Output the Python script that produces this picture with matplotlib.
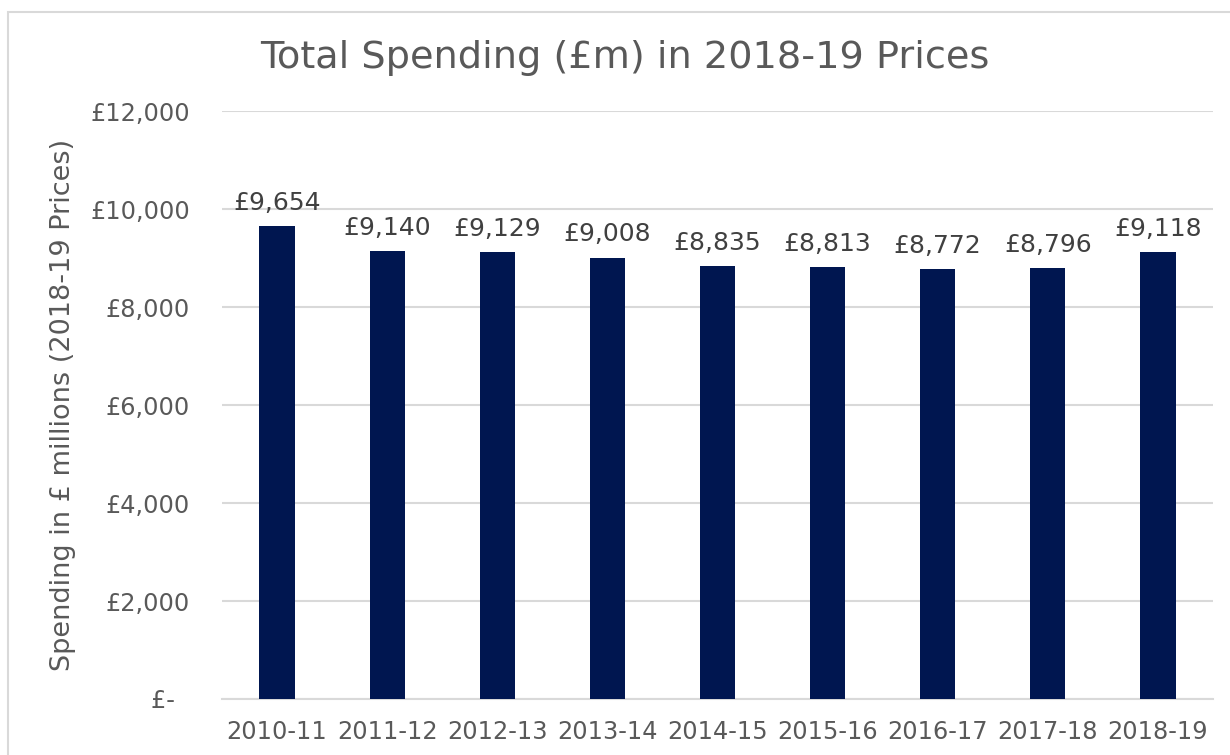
import matplotlib.pyplot as plt
from matplotlib.patches import Rectangle

years = ['2010-11', '2011-12', '2012-13', '2013-14', '2014-15',
         '2015-16', '2016-17', '2017-18', '2018-19']
spending = [9654, 9140, 9129, 9008, 8835, 8813, 8772, 8796, 9118]
y_ticks = [0, 2000, 4000, 6000, 8000, 10000, 12000]

text_grey = '#595959'
grid_grey = '#d9d9d9'
bar_blue = '#001650'

plt.rcParams['font.family'] = 'DejaVu Sans'

fig = plt.figure(figsize=(12.3, 7.55), dpi=100)
ax = fig.add_axes([222 / 1230, 1 - 699 / 755, (1213 - 222) / 1230, (699 - 111) / 755])

# outer chart border (runs off the right/bottom edge)
fig.patches.append(Rectangle((8 / 1230, -0.1), 1.2, 1 - 12 / 755 + 0.1,
                             transform=fig.transFigure, fill=False,
                             edgecolor=grid_grey, linewidth=1.5))

x = range(len(years))
bars = ax.bar(x, spending, width=0.32, color=bar_blue, zorder=3)

for xi, v in zip(x, spending):
    ax.annotate('£{:,}'.format(v), (xi, v), xytext=(0, 8), textcoords='offset points',
                ha='center', va='bottom', fontsize=18, color='#404040')

ax.set_xlim(-0.5, len(years) - 0.5)
ax.set_ylim(0, 12000)
ax.set_yticks(y_ticks)
ax.set_yticklabels(['£-  ' if t == 0 else '£{:,}'.format(t) for t in y_ticks])
ax.set_xticks(list(x))
ax.set_xticklabels(years)
ax.tick_params(axis='both', length=0, labelsize=17.3, labelcolor=text_grey)
ax.tick_params(axis='y', pad=23)
ax.tick_params(axis='x', pad=15)

ax.grid(axis='y', color=grid_grey, linewidth=1.5, zorder=0)
for s in ['top', 'right', 'left']:
    ax.spines[s].set_visible(False)
ax.spines['bottom'].set_color(grid_grey)
ax.spines['bottom'].set_linewidth(1.5)

ax.set_ylabel('Spending in £ millions (2018-19 Prices)', fontsize=19.5, color=text_grey, labelpad=10)
fig.text(625 / 1230, 1 - 58 / 755, 'Total Spending (£m) in 2018-19 Prices',
         ha='center', va='center', fontsize=27.5, color=text_grey)

fig.savefig('out.png', dpi=100)
